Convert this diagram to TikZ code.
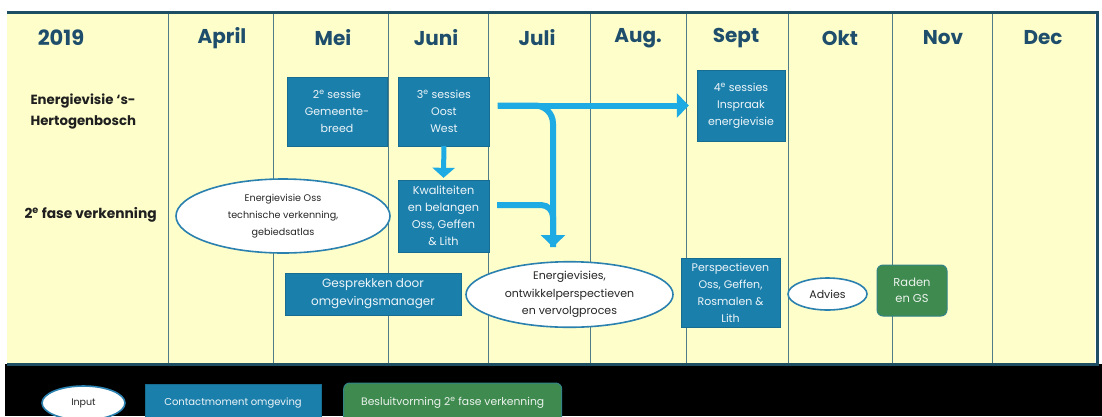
\documentclass[tikz,border=0pt]{standalone}
\usepackage{fontspec}
\setmainfont{Poppins}
\usetikzlibrary{positioning,shapes.geometric,arrows.meta}

\definecolor{chartyellow}{HTML}{FEFECB}
\definecolor{framenavy}{HTML}{1D4E63}
\definecolor{gridteal}{HTML}{4F7C86}
\definecolor{headnavy}{HTML}{1E4E6C}
\definecolor{contactblue}{HTML}{1B7FAC}
\definecolor{decidegreen}{HTML}{3E8A4F}
\definecolor{flowblue}{HTML}{1EAAE2}
\definecolor{ringblue}{HTML}{2A80AE}

\begin{document}
\begin{tikzpicture}[x=1pt, y=-1pt,
  monthtext/.style={font=\bfseries\fontsize{20}{22}\selectfont, text=headnavy},
  rowtext/.style={anchor=west, align=left, font=\bfseries\fontsize{13.3}{21}\selectfont, text=black!88},
  contactbox/.style={fill=contactblue, draw=contactblue!85!black, text=white!92!contactblue, align=center, inner sep=1pt, font=\fontsize{11}{17}\selectfont},
  inputring/.style={ellipse, fill=white, draw=ringblue, line width=1.6pt, text=black!85, align=center, inner sep=0pt, font=\fontsize{11}{17.5}\selectfont},
  decidebox/.style={fill=decidegreen, draw=ringblue!60!decidegreen, line width=1pt, rounded corners=6pt, text=white!90!decidegreen, align=center, inner sep=1pt, font=\fontsize{11.5}{16.5}\selectfont},
  gridline/.style={draw=gridteal, line width=0.9pt},
  flow/.style={draw=flowblue, line width=6pt, -{Triangle[width=24pt,length=12pt]}},
  flowline/.style={draw=flowblue, line width=6pt}
]
\useasboundingbox (0,0) rectangle (1102,416);

\fill[chartyellow] (7,13) rectangle (1095,363);
\fill[black] (5,364) rectangle (1102,416);
\foreach \x in {168,273,388,488,590,686,788,892,992}
  \draw[gridline] (\x,14) -- (\x,363);
\draw[framenavy, line width=3pt] (7,12.5) -- (1097,12.5) -- (1097,364.5) -- (7,364.5);

\node (year) at (61,38) [monthtext, font=\bfseries\fontsize{21}{22}\selectfont] {2019};
\foreach \m/\x [count=\i] in {April/222, Mei/333, Juni/436, Juli/537, Aug./638, Sept/736, Okt/840, Nov/943, Dec/1043}
  \node (month_\i) at (\x,38) [monthtext] {\m};

\node (row_ev) at (27,111) [rowtext] {Energievisie ‘s-\\Hertogenbosch};
\node (row_fase) at (21,215) [rowtext, font=\bfseries\fontsize{13.8}{21}\selectfont] {2\textsuperscript{e} fase verkenning};

\node (sess2) at (337,111.5) [contactbox, minimum width=100pt, minimum height=69pt] {2\textsuperscript{e} sessie\\Gemeente-\\breed};
\node (sess3) at (sess2.east) [contactbox, right=11pt, minimum width=91pt, minimum height=69pt] {3\textsuperscript{e} sessies\\Oost\\West};
\node (sess4) at (741,105.5) [contactbox, minimum width=88pt, minimum height=71pt] {4\textsuperscript{e} sessies\\Inspraak\\energievisie};

\node (oss_ring) at (283,216) [inputring, minimum width=214pt, minimum height=74pt, font=\fontsize{9.6}{17}\selectfont] {Energievisie Oss\\technische verkenning,\\gebiedsatlas};
\node (kwal) at (443.5,216) [contactbox, minimum width=91pt, minimum height=72pt, font=\fontsize{11.3}{17}\selectfont] {Kwaliteiten\\en belangen\\Oss, Geffen\\\& Lith};

\node (gespr) at (373,294) [contactbox, minimum width=176pt, minimum height=42pt, font=\fontsize{12}{18}\selectfont] {Gesprekken door\\omgevingsmanager};
\node (vis_ring) at (569.5,294.5) [inputring, minimum width=207pt, minimum height=65pt] {Energievisies,\\ontwikkelperspectieven\\en vervolgproces};
\node (persp) at (730.5,292.5) [contactbox, minimum width=99pt, minimum height=69pt] {Perspectieven\\Oss, Geffen,\\Rosmalen \&\\Lith};
\node (advies) at (827.5,294) [inputring, minimum width=79pt, minimum height=32pt] {Advies};
\node (raden) at (912,290.5) [decidebox, minimum width=70pt, minimum height=51pt] {Raden\\en GS};

\coordinate (join_tip) at (553,247);
\draw[flow, shorten <=8pt, shorten >=8pt] (sess3.east |- sess4.west) -- (sess4.west);
\draw[flow, rounded corners=18pt, shorten <=8pt] (sess3.east |- sess4.west) -| (join_tip);
\draw[flowline, rounded corners=12pt, shorten <=8pt] ([yshift=11pt]kwal.east) -| (join_tip);
\draw[flow, line width=5pt, -{Triangle[width=22pt,length=10pt]}, shorten >=2pt] (sess3.south) -- (kwal.north);

\node (leg_input) at (83.5,403) [inputring, minimum width=83pt, minimum height=34pt, font=\fontsize{9.5}{12}\selectfont] {Input};
\node (leg_contact) at (leg_input.east) [contactbox, right=19pt, minimum width=176pt, minimum height=38pt, font=\fontsize{10}{12}\selectfont] {Contactmoment omgeving};
\node (leg_decide) at (leg_contact.east) [decidebox, right=22pt, minimum width=218pt, minimum height=40pt, font=\fontsize{10.8}{12}\selectfont] {Besluitvorming 2\textsuperscript{e} fase verkenning};
\end{tikzpicture}
\end{document}
